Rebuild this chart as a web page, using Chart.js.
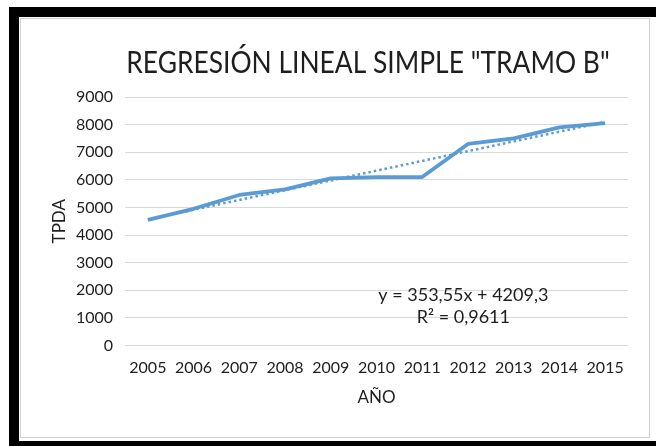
<!DOCTYPE html>
<html>
<head>
<meta charset="utf-8">
<script src="https://cdn.jsdelivr.net/npm/chart.js@4"></script>
<style>
  html, body { margin: 0; padding: 0; background: #fff; }
  body { width: 656px; height: 446px; position: relative; overflow: hidden; }
  .frame-top { position: absolute; left: 9px; top: 7px; width: 647px; height: 10px; background: #000; }
  .frame-left { position: absolute; left: 9px; top: 7px; width: 10px; height: 439px; background: #000; }
  .frame-bottom { position: absolute; left: 9px; top: 441px; width: 647px; height: 5px; background: #000; }
  .box { position: absolute; left: 20px; top: 18px; width: 628px; height: 418px; border: 1px solid #d0d0d0; background: #fff; }
  canvas { display: block; }
</style>
</head>
<body>
<div class="frame-top"></div>
<div class="frame-left"></div>
<div class="frame-bottom"></div>
<div class="box"><canvas id="chart-tramo" width="628" height="418"></canvas></div>
<script>
const years = ['2005', '2006', '2007', '2008', '2009', '2010', '2011', '2012', '2013', '2014', '2015'];
const tpda = [4550, 4950, 5450, 5650, 6050, 6100, 6100, 7300, 7500, 7900, 8050];
// trend line end points (y = 353,55x + 4209,3 at x = 1 and x = 11)
const trend = [4563, null, null, null, null, null, null, null, null, null, 8098];
const yTicks = [0, 1000, 2000, 3000, 4000, 5000, 6000, 7000, 8000, 9000];
const chartTitle = 'REGRESIÓN LINEAL SIMPLE "TRAMO B"';
const eqLines = ['y = 353,55x + 4209,3', 'R² = 0,9611'];

const FONT = 'Lato, "Open Sans", sans-serif';
const TEXT = '#1e1e1e';
const BLUE = '#5B9BD5';

// title drawn by hand so it can sit over the plot and be a bit condensed
const titleText = {
  id: 'titleText',
  afterDraw(chart) {
    const { ctx } = chart;
    ctx.save();
    ctx.font = '30px ' + FONT;
    ctx.fillStyle = TEXT;
    ctx.textAlign = 'center';
    ctx.textBaseline = 'middle';
    ctx.translate(347, 44);
    ctx.scale(0.88, 1);
    ctx.fillText(chartTitle, 0, 0);
    ctx.restore();
  }
};

const equationLabel = {
  id: 'equationLabel',
  afterDatasetsDraw(chart) {
    const { ctx, scales: { x, y } } = chart;
    const cx = x.getPixelForValue(6) + 0.9 * (x.getPixelForValue(7) - x.getPixelForValue(6));
    ctx.save();
    ctx.font = '18px ' + FONT;
    ctx.fillStyle = TEXT;
    ctx.textAlign = 'center';
    ctx.textBaseline = 'middle';
    ctx.fillText(eqLines[0], cx, y.getPixelForValue(1810));
    ctx.fillText(eqLines[1], cx, y.getPixelForValue(1020));
    ctx.restore();
  }
};

new Chart(document.getElementById('chart-tramo'), {
  type: 'line',
  data: {
    labels: years,
    datasets: [{
      label: 'TPDA',
      data: tpda,
      borderColor: BLUE,
      borderWidth: 3.8,
      pointRadius: 0,
      tension: 0,
      borderJoinStyle: 'round'
    }, {
      label: 'Lineal',
      data: trend,
      spanGaps: true,
      borderColor: BLUE,
      borderWidth: 2.5,
      borderDash: [2.5, 3],
      pointRadius: 0
    }]
  },
  options: {
    responsive: false,
    animation: false,
    layout: { padding: { left: 24, right: 21, top: 78, bottom: 25 } },
    plugins: {
      legend: { display: false },
      tooltip: { enabled: false },
      title: { display: false }
    },
    scales: {
      x: {
        offset: true,
        grid: { display: false },
        border: { display: false },
        ticks: { color: TEXT, font: { family: FONT, size: 16 }, maxRotation: 0, autoSkip: false, padding: 5 },
        title: { display: true, text: 'AÑO', color: TEXT, font: { family: FONT, size: 17 }, padding: { top: 5 } }
      },
      y: {
        min: 0,
        max: 9000,
        afterBuildTicks(axis) { axis.ticks = yTicks.map(v => ({ value: v })); },
        afterFit(axis) { axis.width = 80; },
        grid: { color: '#d9d9d9', drawTicks: false },
        border: { display: false },
        ticks: { color: TEXT, font: { family: FONT, size: 16 }, padding: 12, callback: v => String(v) },
        title: { display: true, text: 'TPDA', color: TEXT, font: { family: FONT, size: 17 }, padding: { top: 4, bottom: 4 } }
      }
    }
  },
  plugins: [titleText, equationLabel]
});
</script>
</body>
</html>
